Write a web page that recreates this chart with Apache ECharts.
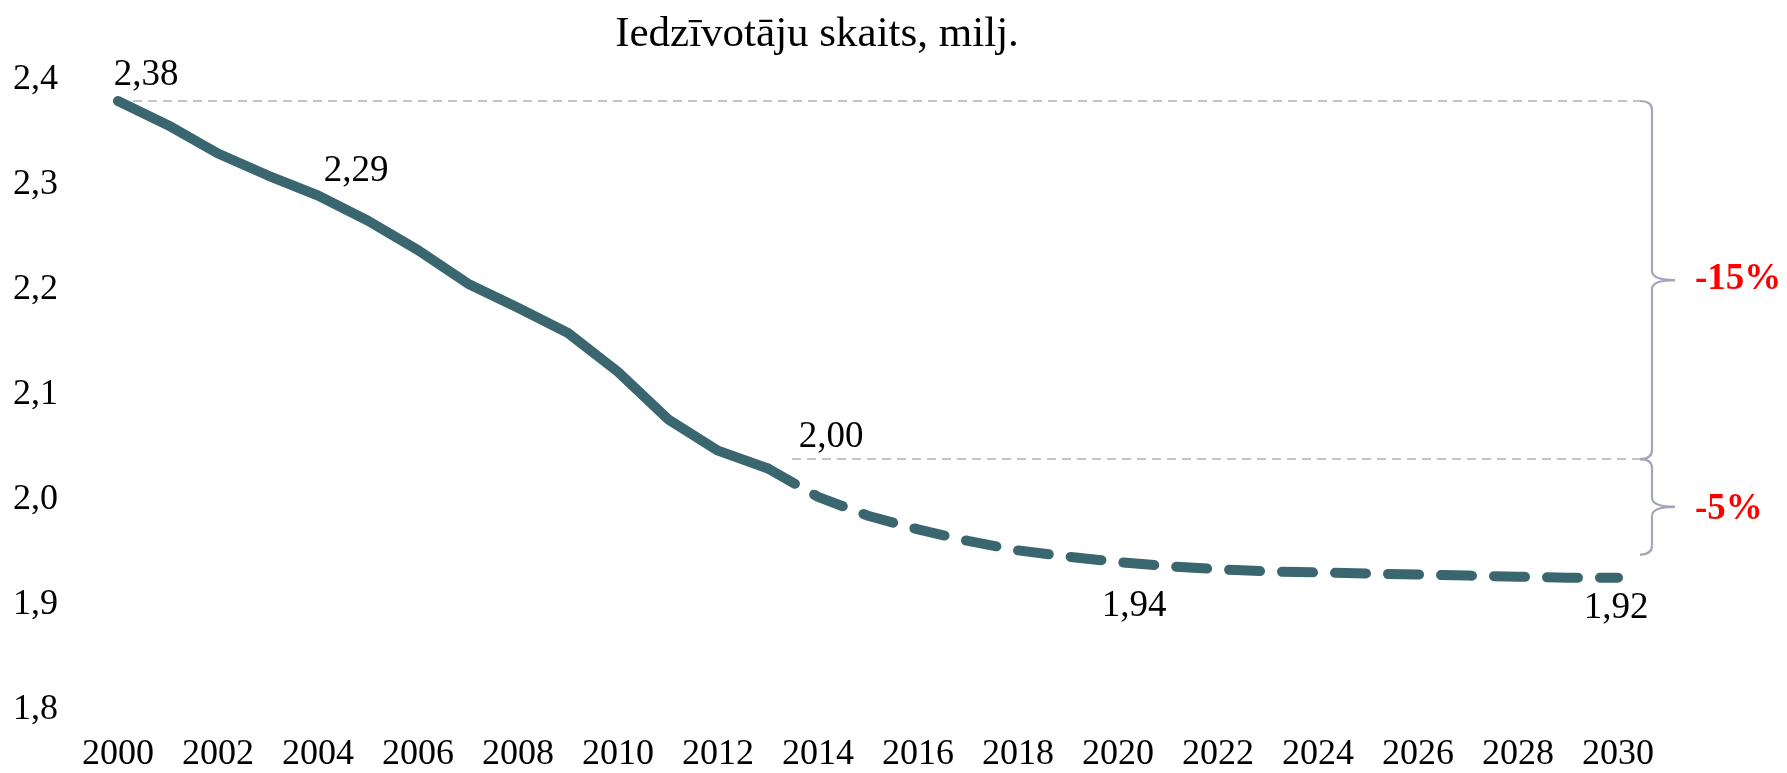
<!DOCTYPE html>
<html>
<head>
<meta charset="utf-8">
<script src="https://cdn.jsdelivr.net/npm/echarts@6/dist/echarts.min.js"></script>
<style>
html,body{margin:0;padding:0;background:#fff;}
#chart{width:1787px;height:773px;}
</style>
</head>
<body>
<div id="chart"></div>
<script>
var titleText = 'Iedzīvotāju skaits, milj.';
var years = ['2000','2001','2002','2003','2004','2005','2006','2007','2008','2009','2010',
  '2011','2012','2013','2014','2015','2016','2017','2018','2019','2020',
  '2021','2022','2023','2024','2025','2026','2027','2028','2029','2030'];
var actual = [2.380, 2.357, 2.330, 2.309, 2.290, 2.266, 2.238, 2.206, 2.183, 2.159, 2.122,
  2.077, 2.047, 2.030];
var forecast = [2.030, 2.003, 1.985, 1.972, 1.961, 1.952, 1.946, 1.941, 1.937, 1.934, 1.932,
  1.931, 1.930, 1.929, 1.928, 1.927, 1.926, 1.926];
var forecastStart = '2013';
var yTicks = [1.8, 1.9, 2.0, 2.1, 2.2, 2.3, 2.4];
var labelYears = ['2000', '2004', '2014', '2020', '2030'];
var labelTexts = ['2,38', '2,29', '2,00', '1,94', '1,92'];
var refLevels = [2.38, 2.039, 1.948];
var refStartYears = ['2000', '2013'];
var changeTexts = ['-15%', '-5%'];

var FONT = '"Liberation Serif","Times New Roman",serif';
var LINE = '#3a6670';

var actualData = years.map(function (y, i) { return i < actual.length ? actual[i] : null; });
var fStart = years.indexOf(forecastStart);
var forecastData = years.map(function (y, i) { return i >= fStart ? forecast[i - fStart] : null; });
function valueAt(year) {
  var i = years.indexOf(year);
  return actualData[i] != null ? actualData[i] : forecastData[i];
}
var labelOffsets = [[28, -26], [38, -24], [13, -60], [16, 44], [-2, 31]];
var labelData = labelYears.map(function (y, k) {
  return { value: [y, valueAt(y)], label: { formatter: labelTexts[k], offset: labelOffsets[k] } };
});

var chart = echarts.init(document.getElementById('chart'), null, { renderer: 'canvas' });
chart.setOption({
  animation: false,
  backgroundColor: '#fff',
  title: {
    text: titleText, left: 812, top: 8, textAlign: 'center',
    textStyle: { fontFamily: FONT, fontSize: 43, fontWeight: 'normal', color: '#000' }
  },
  grid: { left: 118, right: 169, top: 80, bottom: 58, containLabel: false },
  xAxis: {
    type: 'category', data: years, boundaryGap: false,
    axisLine: { show: false }, axisTick: { show: false }, splitLine: { show: false },
    axisLabel: { interval: 1, margin: 27, fontFamily: FONT, fontSize: 36, color: '#000' }
  },
  yAxis: {
    type: 'value', min: yTicks[0], max: yTicks[yTicks.length - 1], interval: 0.1,
    axisLine: { show: false }, axisTick: { show: false }, splitLine: { show: false },
    axisLabel: {
      margin: 60, fontFamily: FONT, fontSize: 36, color: '#000',
      formatter: function (v) { return v.toFixed(1).replace('.', ','); }
    }
  },
  series: [
    {
      type: 'line', data: actualData, showSymbol: false, symbol: 'none', z: 3,
      lineStyle: { color: LINE, width: 10, cap: 'round', join: 'round' }
    },
    {
      type: 'line', data: forecastData, showSymbol: false, symbol: 'none', z: 3,
      lineStyle: { color: LINE, width: 10, type: [31, 22], cap: 'round', join: 'round' }
    },
    {
      type: 'scatter', data: labelData, symbolSize: 0, z: 4, silent: true,
      itemStyle: { color: '#000', opacity: 1 },
      emphasis: { disabled: true },
      label: { show: true, position: 'inside', fontFamily: FONT, fontSize: 37, color: '#000', opacity: 1, textBorderWidth: 0 }
    }
  ]
});

function drawAnnotations() {
  var lastX = chart.convertToPixel({ xAxisIndex: 0 }, years[years.length - 1]);
  var lineEnd = lastX + 22;
  var vx = lineEnd + 12;
  var tipX = vx + 23;
  var yTop = chart.convertToPixel({ yAxisIndex: 0 }, refLevels[0]);
  var yMid = chart.convertToPixel({ yAxisIndex: 0 }, refLevels[1]);
  var yBot = chart.convertToPixel({ yAxisIndex: 0 }, refLevels[2]);
  var x1 = chart.convertToPixel({ xAxisIndex: 0 }, refStartYears[0]);
  var x2 = chart.convertToPixel({ xAxisIndex: 0 }, refStartYears[1]) + 24;
  var braceStyle = { stroke: '#a3a6bb', lineWidth: 2.2, fill: null };
  function brace(ya, yb) {
    var ym = (ya + yb) / 2;
    var r = 9;
    return [
      { type: 'bezierCurve', z: 1, shape: { x1: lineEnd, y1: ya, cpx1: vx, cpy1: ya, x2: vx, y2: ya + r }, style: braceStyle },
      { type: 'line', z: 1, shape: { x1: vx, y1: ya + r, x2: vx, y2: ym - r }, style: braceStyle },
      { type: 'bezierCurve', z: 1, shape: { x1: vx, y1: ym - r, cpx1: vx, cpy1: ym, x2: tipX, y2: ym }, style: braceStyle },
      { type: 'bezierCurve', z: 1, shape: { x1: tipX, y1: ym, cpx1: vx, cpy1: ym, x2: vx, y2: ym + r }, style: braceStyle },
      { type: 'line', z: 1, shape: { x1: vx, y1: ym + r, x2: vx, y2: yb - r }, style: braceStyle },
      { type: 'bezierCurve', z: 1, shape: { x1: vx, y1: yb - r, cpx1: vx, cpy1: yb, x2: lineEnd, y2: yb }, style: braceStyle }
    ];
  }
  var refStyle = { stroke: '#c4c4c8', lineWidth: 2, lineDash: [9, 6] };
  var pctStyle = { fill: '#ff0000', font: 'bold 37px ' + FONT, textVerticalAlign: 'middle', textAlign: 'left' };
  var els = [
    { type: 'line', z: 1, shape: { x1: x1, y1: yTop, x2: lineEnd, y2: yTop }, style: refStyle },
    { type: 'line', z: 1, shape: { x1: x2, y1: yMid, x2: lineEnd, y2: yMid }, style: refStyle }
  ].concat(brace(yTop, yMid)).concat(brace(yMid, yBot)).concat([
    { type: 'text', x: tipX + 20, y: (yTop + yMid) / 2 - 1, style: Object.assign({ text: changeTexts[0] }, pctStyle) },
    { type: 'text', x: tipX + 20, y: (yMid + yBot) / 2 + 3, style: Object.assign({ text: changeTexts[1] }, pctStyle) }
  ]);
  chart.setOption({ graphic: els });
}
drawAnnotations();
</script>
</body>
</html>
